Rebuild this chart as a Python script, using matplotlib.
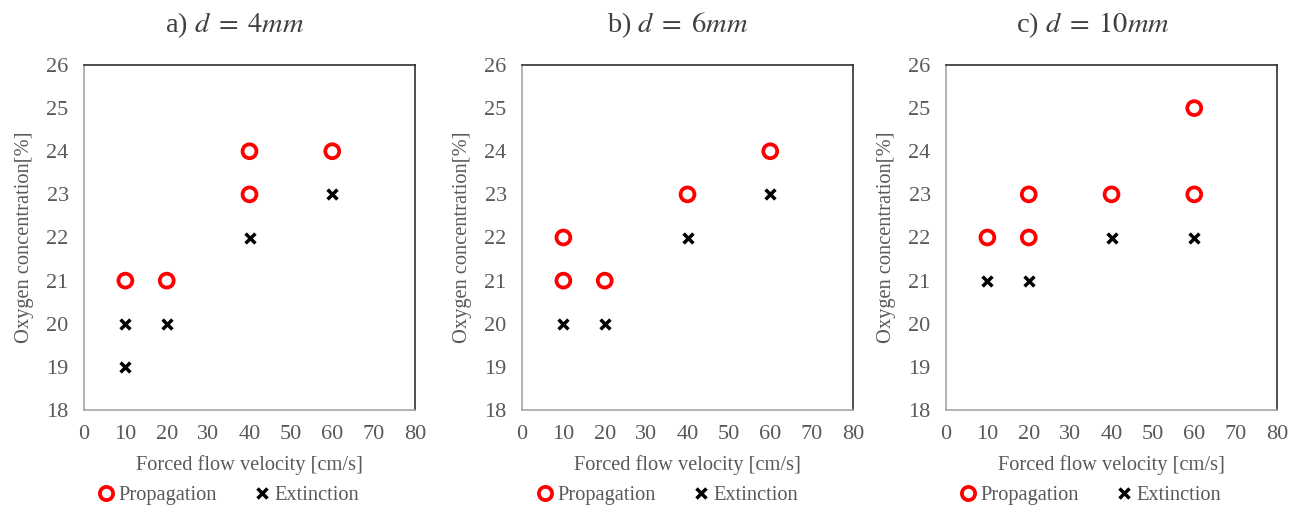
import matplotlib
matplotlib.use("Agg")
import matplotlib.pyplot as plt
from matplotlib.lines import Line2D

plt.rcParams['font.family'] = ['Liberation Serif', 'DejaVu Serif']
plt.rcParams['mathtext.fontset'] = 'stix'

titles = [r"a) $d\;=\;4mm$", r"b) $d\;=\;6mm$", r"c) $d\;=\;10mm$"]

prop_x_a = [10, 20, 40, 40, 60]
prop_y_a = [21, 21, 23, 24, 24]
ext_x_a = [10, 10, 20, 40, 60]
ext_y_a = [19, 20, 20, 22, 23]

prop_x_b = [10, 10, 20, 40, 60]
prop_y_b = [21, 22, 21, 23, 24]
ext_x_b = [10, 20, 40, 60]
ext_y_b = [20, 20, 22, 23]

prop_x_c = [10, 20, 20, 40, 60, 60]
prop_y_c = [22, 22, 23, 23, 23, 25]
ext_x_c = [10, 20, 40, 60]
ext_y_c = [21, 21, 22, 22]

xticks = [0, 10, 20, 30, 40, 50, 60, 70, 80]
yticks = [18, 19, 20, 21, 22, 23, 24, 25, 26]
xlabel = "Forced flow velocity [cm/s]"
ylabel = "Oxygen concentration[%]"
legend_labels = ["Propagation", "Extinction"]

panels = [
    (prop_x_a, prop_y_a, ext_x_a, ext_y_a),
    (prop_x_b, prop_y_b, ext_x_b, ext_y_b),
    (prop_x_c, prop_y_c, ext_x_c, ext_y_c),
]

W, H = 1296, 505
fig = plt.figure(figsize=(W / 100, H / 100), dpi=100)

lefts = [84, 522, 946]
title_cx = [235, 678, 1093]
legend_cx = [229, 668, 1091]
ax_w = 331
top_px, bot_px = 65, 410
gray = '#595959'

for i, (px, py, ex, ey) in enumerate(panels):
    ax = fig.add_axes([lefts[i] / W, 1 - bot_px / H, ax_w / W, (bot_px - top_px) / H])
    ax.scatter(px, py, s=100, facecolors='none', edgecolors='#ff0000', linewidths=2.7, zorder=3)
    ax.scatter(ex, ey, s=50, marker='x', color='black', linewidths=2.5, zorder=3)
    ax.set_xlim(0, 80)
    ax.set_ylim(18, 26)
    ax.set_xticks(xticks)
    ax.set_yticks(yticks)
    ax.tick_params(length=0, labelsize=16, labelcolor=gray, pad=11)
    ax.set_xlabel(xlabel, fontsize=14.7, color=gray, labelpad=8)
    ax.set_ylabel(ylabel, fontsize=14.7, color=gray, labelpad=9)
    for s in ['top', 'right']:
        ax.spines[s].set_color('#303030')
        ax.spines[s].set_linewidth(1.2)
    for s in ['left', 'bottom']:
        ax.spines[s].set_color('#a6a6a6')
        ax.spines[s].set_linewidth(1.2)
    fig.text(title_cx[i] / W, 1 - 25 / H, titles[i], fontsize=20.5, color='#404040',
             ha='center', va='center')
    handles = [
        Line2D([], [], ls='none', marker='o', markersize=9.5, markerfacecolor='none',
               markeredgecolor='#ff0000', markeredgewidth=2.7),
        Line2D([], [], ls='none', marker='x', markersize=7, color='black', markeredgewidth=2.5),
    ]
    fig.legend(handles, legend_labels, loc='center', bbox_to_anchor=(legend_cx[i] / W, 1 - 495 / H),
               ncol=2, frameon=False, fontsize=14.7, labelcolor=gray, handlelength=0.7,
               handletextpad=0.25, columnspacing=1.9)

fig.savefig('out.png', dpi=100)
